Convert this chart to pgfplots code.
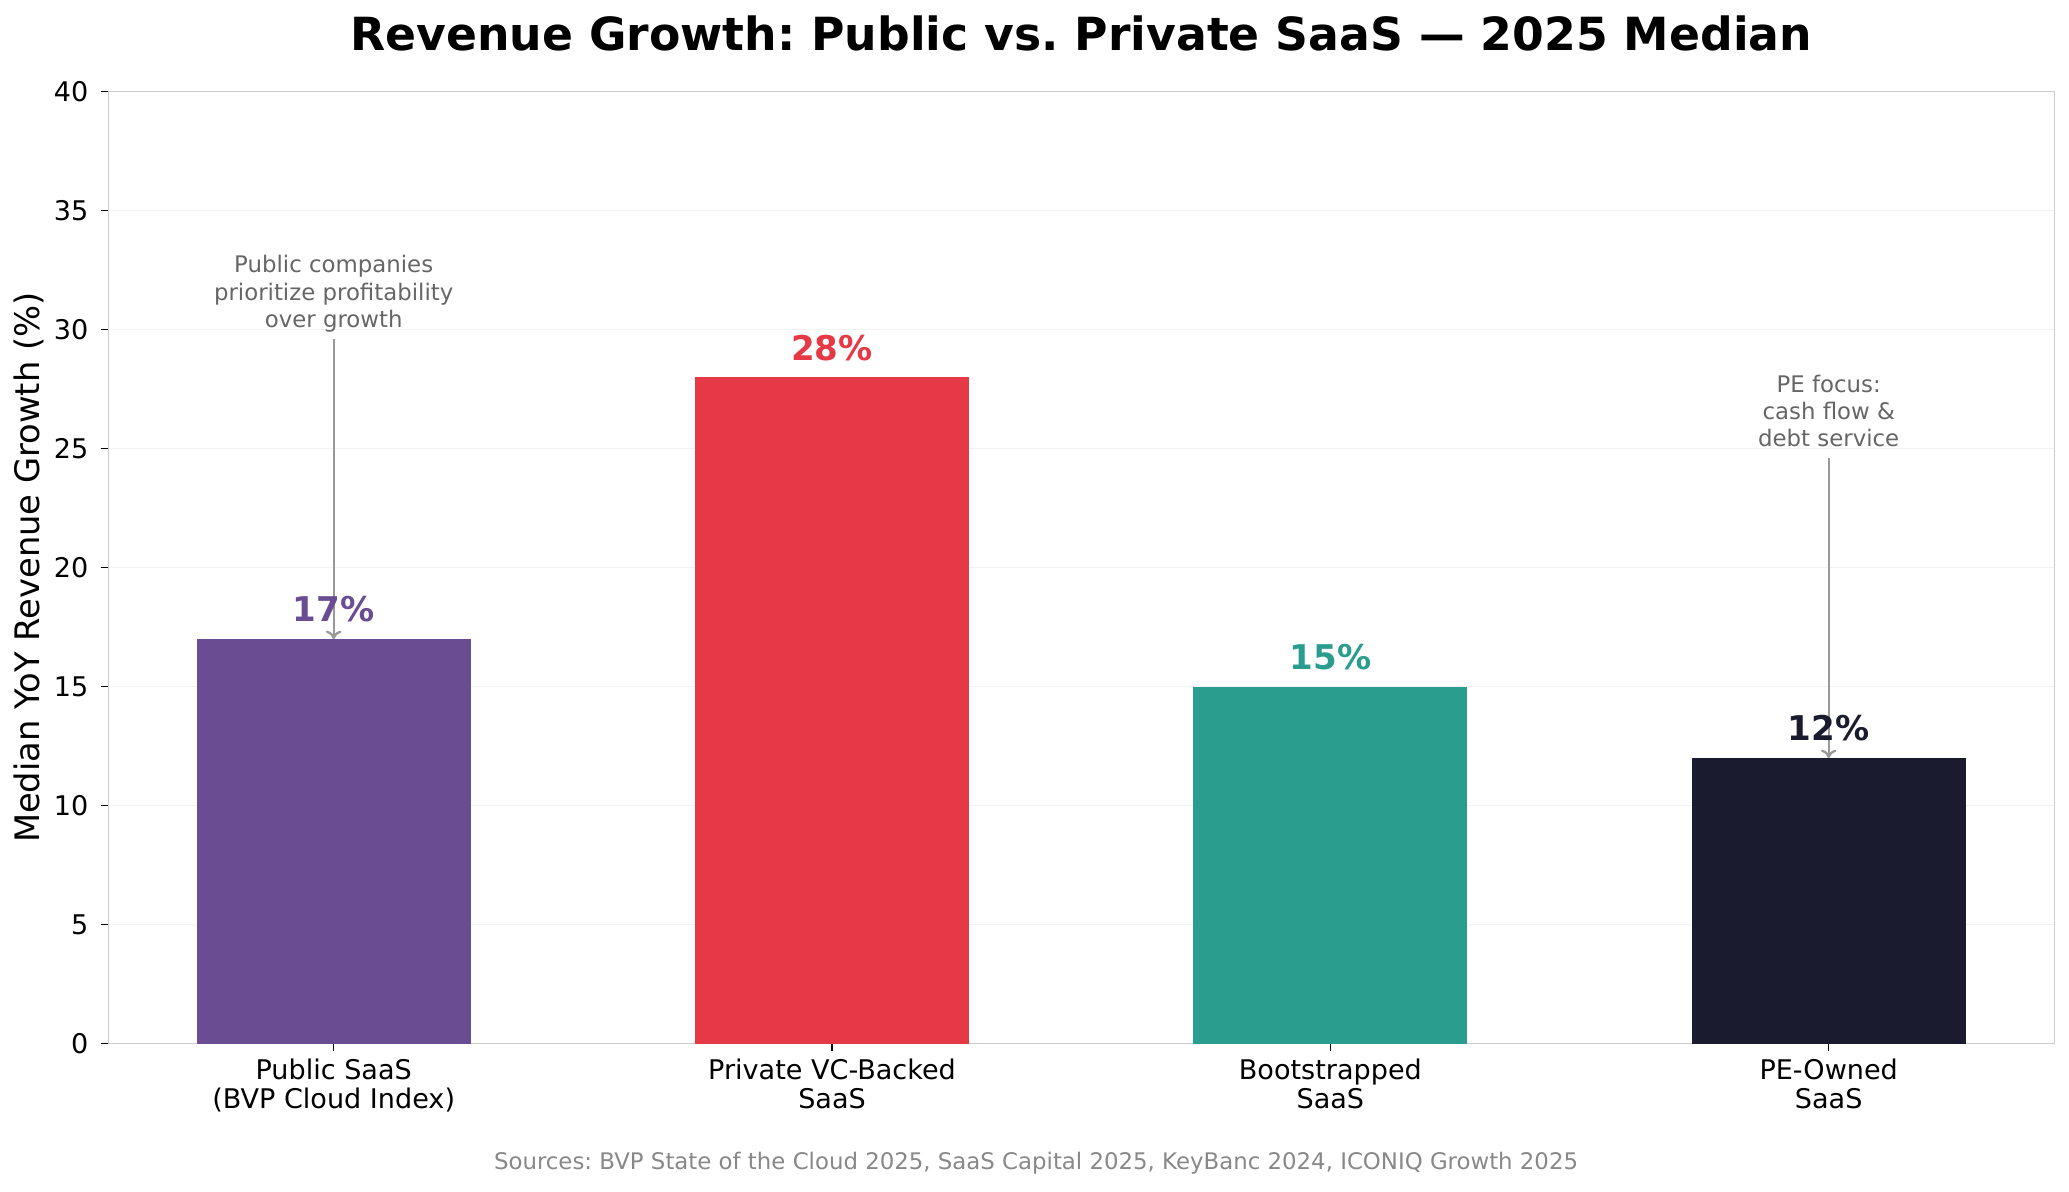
\documentclass[border=0pt]{standalone}
\usepackage{pgfplots}
\pgfplotsset{compat=1.18}
\usepackage{fontspec}
\setmainfont{DejaVu Sans}
\usetikzlibrary{arrows.meta}
\definecolor{cpurple}{HTML}{6A4C93}
\definecolor{cred}{HTML}{E63946}
\definecolor{cteal}{HTML}{2A9D8F}
\definecolor{cdark}{HTML}{1B1B2F}
\definecolor{anntext}{HTML}{666666}
\definecolor{annarrow}{HTML}{999999}
\definecolor{srctext}{HTML}{888888}
\frenchspacing
\begin{document}
\begin{tikzpicture}
\path (-1.082cm,-1.483cm) rectangle (19.608cm,10.437cm);
\begin{axis}[
  at={(0,0)}, anchor=south west,
  scale only axis, width=19.46cm, height=9.52cm,
  xmin=-0.4525, xmax=3.4525, ymin=0, ymax=40,
  ytick={0,5,...,40}, xtick={0,1,2,3},
  xticklabels={{Public SaaS\\(BVP Cloud Index)},{Private VC-Backed\\SaaS},{Bootstrapped\\SaaS},{PE-Owned\\SaaS}},
  xticklabel style={align=center, yshift=0.05cm, font=\fontsize{7.7}{8.4}\selectfont},
  yticklabel style={font=\fontsize{7.7}{8.4}\selectfont},
  /pgf/number format/assume math mode=true,
  axis line style={draw=black!20, line width=0.35pt},
  tick style={black, line width=0.35pt},
  tick align=outside, major tick length=0.075cm,
  xtick pos=bottom, ytick pos=left,
  ymajorgrids, grid style={black!5, line width=0.35pt},
  bar width=0.55,
  ylabel={Median YoY Revenue Growth (\%)},
  ylabel style={at={(axis description cs:-0.0406,0.5)}, anchor=center, font=\fontsize{9.6}{11}\selectfont},
  clip=false,
  nodes near coords={\pgfmathprintnumber{\pgfplotspointmeta}\%},
  every node near coord/.append style={anchor=south, inner sep=0pt, yshift=0.16cm, font=\bfseries\fontsize{9.7}{11}\selectfont},
]
\addplot[ybar, bar shift=0pt, fill=cpurple, draw=none, nodes near coords style={text=cpurple}] coordinates {(0,17)};
\addplot[ybar, bar shift=0pt, fill=cred, draw=none, nodes near coords style={text=cred}] coordinates {(1,28)};
\addplot[ybar, bar shift=0pt, fill=cteal, draw=none, nodes near coords style={text=cteal}] coordinates {(2,15)};
\addplot[ybar, bar shift=0pt, fill=cdark, draw=none, nodes near coords style={text=cdark}] coordinates {(3,12)};
\draw[annarrow, line width=0.65pt, -{To[length=2.4pt,width=4.4pt]}] (axis cs:0,29.6) -- (axis cs:0,17);
\node[anchor=south, align=center, text=anntext, font=\fontsize{6.5}{7.7}\selectfont, inner sep=0pt] at (axis cs:0,29.88) {Public companies\\prioritize profitability\\over growth};
\draw[annarrow, line width=0.65pt, -{To[length=2.4pt,width=4.4pt]}] (axis cs:3,24.6) -- (axis cs:3,12);
\node[anchor=south, align=center, text=anntext, font=\fontsize{6.5}{7.7}\selectfont, inner sep=0pt] at (axis cs:3,25.05) {PE focus:\\cash flow \&\\debt service};
\node[text=srctext, font=\fontsize{6.5}{7.7}\selectfont] at (axis description cs:0.4768,-0.126) {Sources: BVP State of the Cloud 2025, SaaS Capital 2025, KeyBanc 2024, ICONIQ Growth 2025};
\node[inner sep=0pt, font=\bfseries\fontsize{13}{15}\selectfont] at (axis description cs:0.5,1.061) {Revenue Growth: Public vs. Private SaaS — 2025 Median};
\end{axis}
\end{tikzpicture}
\end{document}
